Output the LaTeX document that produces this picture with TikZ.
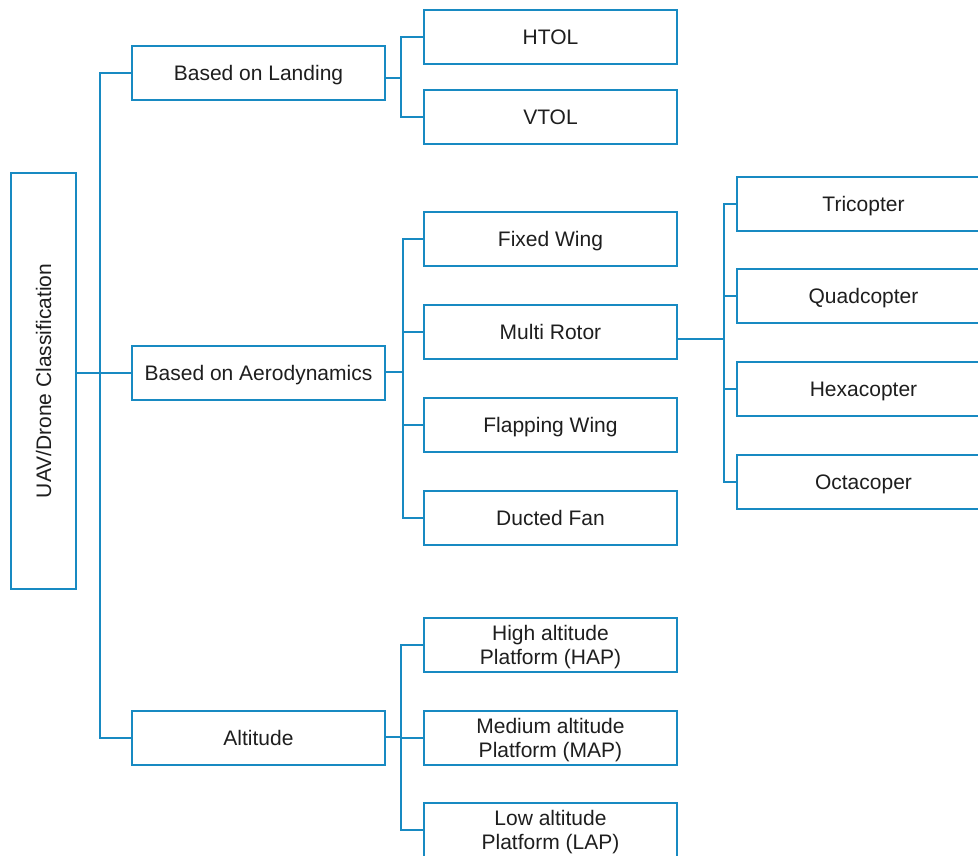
\documentclass[tikz,border=0pt]{standalone}
\usepackage{fontspec}
\setmainfont{Liberation Sans}
\usepackage{xcolor}
\usepackage{tikz}
\definecolor{uavblue}{RGB}{24,138,194}
\definecolor{uavtext}{RGB}{30,30,30}

\tikzset{
  box/.style={draw=uavblue, line width=1.5pt, fill=white, text=uavtext,
    minimum width=253pt, minimum height=54pt, inner sep=0pt, align=center,
    text depth=0pt, font=\fontsize{21}{24}\selectfont},
  link/.style={draw=uavblue, line width=1.5pt}
}

\begin{document}
\begin{tikzpicture}[x=1pt,y=-1pt]
          \useasboundingbox (0,0) rectangle (978,855);

          \node[box, rotate=90, minimum width=416pt, minimum height=65pt] (root) at (43.5,381) {UAV/Drone Classification};

          \node[box] (land) at (258.5,73) {Based on Landing};
          \node[box] (aero) at (258.5,373) {Based on Aerodynamics};
          \node[box] (alt) at (258.5,738) {Altitude};

          \node[box] (htol) at (550.5,37) {HTOL};
          \node[box] (vtol) at (550.5,117) {VTOL};

          \node[box] (fixed) at (550.5,239) {Fixed Wing};
          \node[box] (multi) at (550.5,332) {Multi Rotor};
          \node[box] (flap) at (550.5,425) {Flapping Wing};
          \node[box] (ducted) at (550.5,518) {Ducted Fan};

          \node[box] (tri) at (863.5,204) {Tricopter};
          \node[box] (quad) at (863.5,296) {Quadcopter};
          \node[box] (hexa) at (863.5,389) {Hexacopter};
          \node[box] (octa) at (863.5,482) {Octacoper};

          \node[box] (hap) at (550.5,645) {High altitude\\Platform (HAP)};
          \node[box] (map) at (550.5,738) {Medium altitude\\Platform (MAP)};
          \node[box] (lap) at (550.5,830) {Low altitude\\Platform (LAP)};

          % joints of the brackets
          \coordinate (trunk) at (100,373);
          \coordinate (lb) at (401,78);
          \coordinate (ab) at (403,372);
          \coordinate (mb) at (724,339);
          \coordinate (tb) at (401,737);

          \draw[link] (root.south |- aero.west) -- (trunk);
          \draw[link] (land.west) -| (trunk) |- (alt.west);
          \draw[link] (trunk) -- (aero.west);

          \draw[link] (land.east |- lb) -- (lb);
          \draw[link] (htol.west) -| (lb) |- (vtol.west);

          \draw[link] (aero.east |- ab) -- (ab);
          \draw[link] (fixed.west) -| (ab) |- (ducted.west);
          \draw[link] (ab |- multi.west) -- (multi.west);
          \draw[link] (ab |- flap.west) -- (flap.west);

          \draw[link] (multi.east |- mb) -- (mb);
          \draw[link] (tri.west) -| (mb) |- (octa.west);
          \draw[link] (mb |- quad.west) -- (quad.west);
          \draw[link] (mb |- hexa.west) -- (hexa.west);

          \draw[link] (alt.east |- tb) -- (tb);
          \draw[link] (hap.west) -| (tb) |- (lap.west);
          \draw[link] (tb |- map.west) -- (map.west);
        \end{tikzpicture}
\end{document}
